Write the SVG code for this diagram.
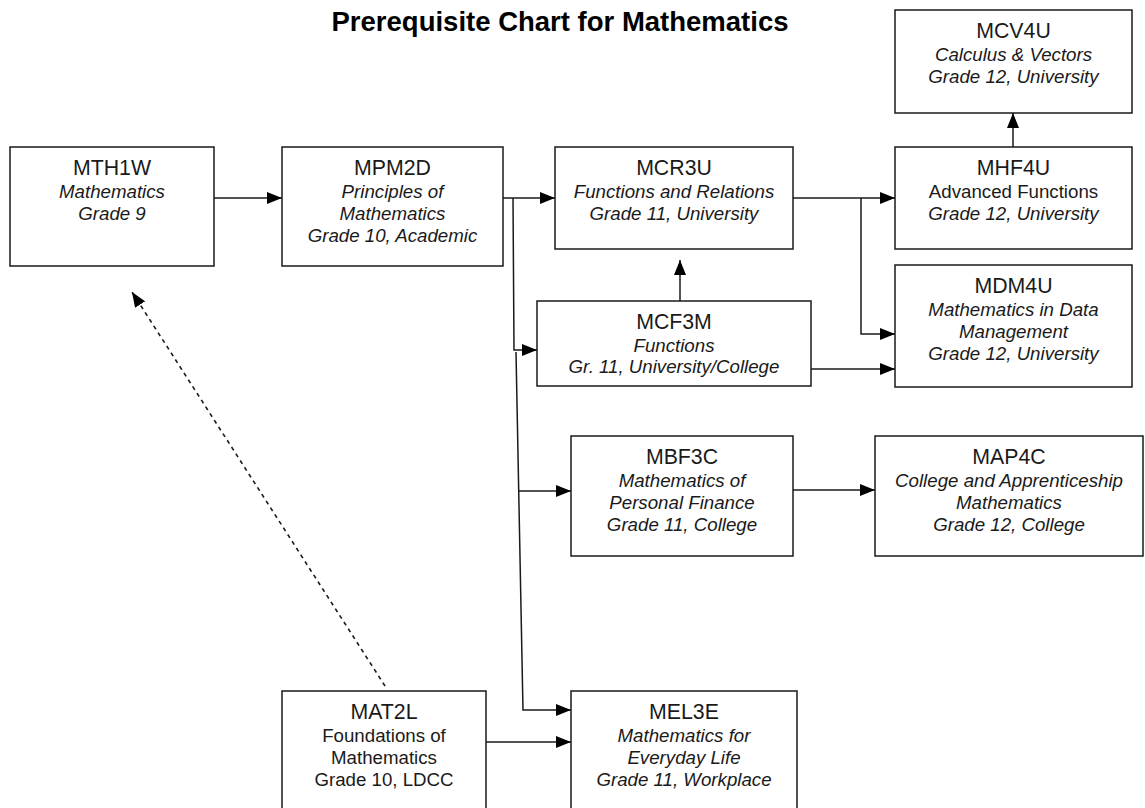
<svg xmlns="http://www.w3.org/2000/svg" width="1145" height="808" viewBox="0 0 1145 808">
<style>
  .box { fill: #ffffff; stroke: #1a1a1a; stroke-width: 1.5; }
  text { font-family: "Liberation Sans", Arial, sans-serif; fill: #1a1a1a; text-anchor: middle; }
  .code { font-size: 21.3px; }
  .sub { font-size: 18.7px; font-style: italic; }
  .up { font-size: 18.7px; }
  .title { font-size: 27.5px; font-weight: bold; fill: #000; }
  .conn { fill: none; stroke: #1a1a1a; stroke-width: 1.5; }
  .dash { stroke-dasharray: 4 4; stroke-width: 1.6; }
</style>
<defs>
  <marker id="arrow" markerUnits="userSpaceOnUse" markerWidth="15" markerHeight="12" refX="15" refY="6" orient="auto">
    <path d="M0,0 L15,6 L0,12 Z" fill="#000"/>
  </marker>
</defs>
<rect width="1145" height="808" fill="#ffffff"/>
<text class="title" x="560" y="31">Prerequisite Chart for Mathematics</text>

<g id="connectors">
  <line class="conn" x1="214" y1="198" x2="282" y2="198" marker-end="url(#arrow)"/>
  <line class="conn" x1="503" y1="198" x2="555" y2="198" marker-end="url(#arrow)"/>
  <polyline class="conn" points="513,198 514,350 537,350" marker-end="url(#arrow)"/>
  <polyline class="conn" points="516,352 523,710 571,710" marker-end="url(#arrow)"/>
  <line class="conn" x1="519" y1="491" x2="571" y2="491" marker-end="url(#arrow)"/>
  <line class="conn" x1="793" y1="198" x2="895" y2="198" marker-end="url(#arrow)"/>
  <polyline class="conn" points="861,198 861,334 895,334" marker-end="url(#arrow)"/>
  <line class="conn" x1="811" y1="369" x2="895" y2="369" marker-end="url(#arrow)"/>
  <line class="conn" x1="680" y1="301" x2="680" y2="260" marker-end="url(#arrow)"/>
  <line class="conn" x1="1013" y1="147" x2="1013" y2="113" marker-end="url(#arrow)"/>
  <line class="conn" x1="793" y1="490" x2="875" y2="490" marker-end="url(#arrow)"/>
  <line class="conn" x1="486" y1="742" x2="571" y2="742" marker-end="url(#arrow)"/>
  <line class="conn dash" x1="385" y1="686" x2="132" y2="292" marker-end="url(#arrow)"/>
</g>

<g id="MTH1W">
  <rect class="box" x="10" y="147" width="204" height="119"/>
  <text class="code" x="112" y="175">MTH1W</text>
  <text class="sub" x="112" y="198">Mathematics</text>
  <text class="sub" x="112" y="220">Grade 9</text>
</g>
<g id="MPM2D">
  <rect class="box" x="282" y="147" width="221" height="119"/>
  <text class="code" x="392.5" y="175">MPM2D</text>
  <text class="sub" x="392.5" y="198">Principles of</text>
  <text class="sub" x="392.5" y="220">Mathematics</text>
  <text class="sub" x="392.5" y="242">Grade 10, Academic</text>
</g>
<g id="MCR3U">
  <rect class="box" x="555" y="147" width="238" height="102"/>
  <text class="code" x="674" y="175">MCR3U</text>
  <text class="sub" x="674" y="198">Functions and Relations</text>
  <text class="sub" x="674" y="220">Grade 11, University</text>
</g>
<g id="MCV4U">
  <rect class="box" x="895" y="10" width="237" height="103"/>
  <text class="code" x="1013.5" y="38">MCV4U</text>
  <text class="sub" x="1013.5" y="61">Calculus &amp; Vectors</text>
  <text class="sub" x="1013.5" y="83">Grade 12, University</text>
</g>
<g id="MHF4U">
  <rect class="box" x="895" y="147" width="237" height="102"/>
  <text class="code" x="1013.5" y="175">MHF4U</text>
  <text class="up" x="1013.5" y="198">Advanced Functions</text>
  <text class="sub" x="1013.5" y="220">Grade 12, University</text>
</g>
<g id="MDM4U">
  <rect class="box" x="895" y="265" width="237" height="122"/>
  <text class="code" x="1013.5" y="293">MDM4U</text>
  <text class="sub" x="1013.5" y="316">Mathematics in Data</text>
  <text class="sub" x="1013.5" y="338">Management</text>
  <text class="sub" x="1013.5" y="360">Grade 12, University</text>
</g>
<g id="MCF3M">
  <rect class="box" x="537" y="301" width="274" height="85"/>
  <text class="code" x="674" y="329">MCF3M</text>
  <text class="sub" x="674" y="352">Functions</text>
  <text class="sub" x="674" y="373">Gr. 11, University/College</text>
</g>
<g id="MBF3C">
  <rect class="box" x="571" y="436" width="222" height="120"/>
  <text class="code" x="682" y="464">MBF3C</text>
  <text class="sub" x="682" y="487">Mathematics of</text>
  <text class="sub" x="682" y="509">Personal Finance</text>
  <text class="sub" x="682" y="531">Grade 11, College</text>
</g>
<g id="MAP4C">
  <rect class="box" x="875" y="436" width="268" height="120"/>
  <text class="code" x="1009" y="464">MAP4C</text>
  <text class="sub" x="1009" y="487">College and Apprenticeship</text>
  <text class="sub" x="1009" y="509">Mathematics</text>
  <text class="sub" x="1009" y="531">Grade 12, College</text>
</g>
<g id="MAT2L">
  <rect class="box" x="282" y="691" width="204" height="130"/>
  <text class="code" x="384" y="719">MAT2L</text>
  <text class="up" x="384" y="742">Foundations of</text>
  <text class="up" x="384" y="764">Mathematics</text>
  <text class="up" x="384" y="786">Grade 10, LDCC</text>
</g>
<g id="MEL3E">
  <rect class="box" x="571" y="691" width="226" height="130"/>
  <text class="code" x="684" y="719">MEL3E</text>
  <text class="sub" x="684" y="742">Mathematics for</text>
  <text class="sub" x="684" y="764">Everyday Life</text>
  <text class="sub" x="684" y="786">Grade 11, Workplace</text>
</g>
</svg>
